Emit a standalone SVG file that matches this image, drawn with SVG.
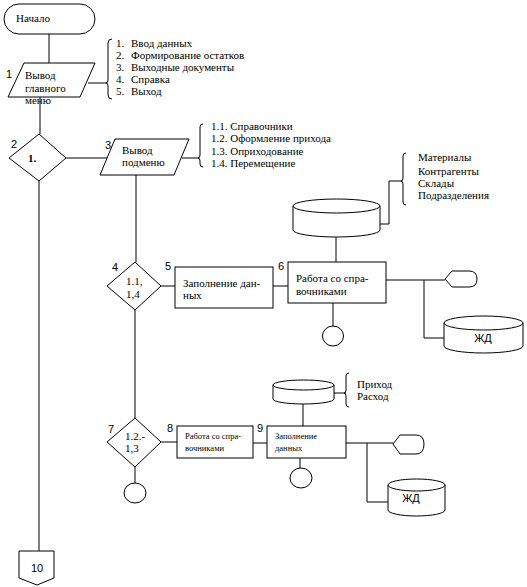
<svg xmlns="http://www.w3.org/2000/svg" width="527" height="587" viewBox="0 0 527 587">
<style>
.s{fill:#fff;stroke:#000;stroke-width:1}
.l{fill:none;stroke:#000;stroke-width:1}
.t{font-family:'Liberation Serif','DejaVu Serif',serif;font-size:11px;fill:#000}
.ts{font-family:'Liberation Serif','DejaVu Serif',serif;font-size:8.5px;fill:#000}
.n{font-family:'Liberation Sans','DejaVu Sans',sans-serif;font-size:11px;fill:#000}
</style>
<rect width="527" height="587" fill="#fff"/>
<g id="connectors" class="l">
<path d="M49 34V63"/>
<path d="M88 83H107"/>
<path d="M40 97V134"/>
<path d="M66 158H108"/>
<path d="M39 181V551"/>
<path d="M182 158H199"/>
<path d="M136 175V262"/>
<path d="M135 310V418"/>
<path d="M135 467V483"/>
<path d="M161 286H175"/>
<path d="M273 286H288"/>
<path d="M336 236V262"/>
<path d="M333 303V326"/>
<path d="M386 280H445"/>
<path d="M424 280V338H444"/>
<path d="M380 224H389V181H402"/>
<path d="M161 442H177"/>
<path d="M253 443H267"/>
<path d="M303 404V426"/>
<path d="M300 458V468"/>
<path d="M334 393H346"/>
<path d="M346 443H393"/>
<path d="M367 443V502H388"/>
</g>
<g id="start">
<rect class="s" x="4" y="4" width="91" height="30" rx="15"/>
<text class="t" x="16" y="22">Начало</text>
</g>
<g id="n1">
<path class="s" d="M24 63H95L80 97H8Z"/>
<text class="n" x="6" y="78">1</text>
<text class="t" x="25" y="79">Вывод</text>
<text class="t" x="25" y="92">главного</text>
<text class="t" x="25" y="104">меню</text>
</g>
<g id="brace1">
<path class="l" d="M112 39Q108 39 108 43V80Q108 83 106 83Q108 83 108 86V95Q108 99 112 99"/>
<text class="t" x="116" y="47">1.</text><text class="t" x="131" y="47">Ввод данных</text>
<text class="t" x="116" y="59">2.</text><text class="t" x="131" y="59">Формирование остатков</text>
<text class="t" x="116" y="71">3.</text><text class="t" x="131" y="71">Выходные документы</text>
<text class="t" x="116" y="83">4.</text><text class="t" x="131" y="83">Справка</text>
<text class="t" x="116" y="95">5.</text><text class="t" x="131" y="95">Выход</text>
</g>
<g id="n2">
<path class="s" d="M39 134L66 158L39 181L9 158Z"/>
<text class="n" x="11" y="148">2</text>
<text class="t" x="28" y="162" font-weight="bold">1.</text>
</g>
<g id="n3">
<path class="s" d="M115 139H189L174 175H100Z"/>
<text class="n" x="105" y="149">3</text>
<text class="t" x="122" y="154">Вывод</text>
<text class="t" x="122" y="166">подменю</text>
</g>
<g id="brace2">
<path class="l" d="M203 124Q200 124 200 127V155Q200 158 198 158Q200 158 200 161V164Q200 167 203 167"/>
<text class="t" x="211" y="130">1.1. Справочники</text>
<text class="t" x="211" y="142">1.2. Оформление прихода</text>
<text class="t" x="211" y="155">1.3. Оприходование</text>
<text class="t" x="211" y="167">1.4. Перемещение</text>
</g>
<g id="db1">
<path class="s" d="M293 206V230A43.5 7 0 0 0 380 230V206"/>
<ellipse class="s" cx="336.5" cy="206" rx="43.5" ry="7"/>
</g>
<g id="brace3">
<path class="l" d="M406 153Q403 153 403 156V178Q403 181 401 181Q403 181 403 184V202Q403 205 406 205"/>
<text class="t" x="418" y="161">Материалы</text>
<text class="t" x="418" y="175">Контрагенты</text>
<text class="t" x="418" y="187">Склады</text>
<text class="t" x="418" y="199">Подразделения</text>
</g>
<g id="n4">
<path class="s" d="M135 262L161 286L135 310L107 286Z"/>
<text class="n" x="112" y="271">4</text>
<text class="t" x="126" y="285">1.1,</text>
<text class="t" x="126" y="298">1,4</text>
</g>
<g id="n5">
<rect class="s" x="175" y="267" width="98" height="41"/>
<text class="n" x="165" y="270">5</text>
<text class="t" x="183" y="287">Заполнение дан-</text>
<text class="t" x="183" y="299">ных</text>
</g>
<g id="n6">
<rect class="s" x="288" y="262" width="98" height="41"/>
<text class="n" x="278" y="270">6</text>
<text class="t" x="296" y="282">Работа со спра-</text>
<text class="t" x="296" y="295">вочниками</text>
</g>
<g id="c6">
<ellipse class="s" cx="333" cy="336" rx="10.5" ry="10"/>
</g>
<g id="disp6">
<path class="s" d="M445 279L452 271H469Q477 271 477 279Q477 287 469 287H452Z"/>
</g>
<g id="zhd1">
<path class="s" d="M444 323V346A39.5 7 0 0 0 523 346V323"/>
<ellipse class="s" cx="483.5" cy="323" rx="39.5" ry="7"/>
<text class="n" x="483" y="342" text-anchor="middle">ЖД</text>
</g>
<g id="n7">
<path class="s" d="M135 418L161 442L135 467L107 442Z"/>
<text class="n" x="108" y="433">7</text>
<text class="t" x="125" y="440">1.2.-</text>
<text class="t" x="125" y="452">1,3</text>
</g>
<g id="c7">
<ellipse class="s" cx="135" cy="493" rx="11" ry="10"/>
</g>
<g id="n8">
<rect class="s" x="177" y="426" width="76" height="32"/>
<text class="n" x="167" y="432">8</text>
<text class="ts" x="185" y="439">Работа со спра-</text>
<text class="ts" x="185" y="451">вочниками</text>
</g>
<g id="n9">
<rect class="s" x="267" y="426" width="79" height="32"/>
<text class="n" x="257" y="432">9</text>
<text class="ts" x="275" y="439">Заполнение</text>
<text class="ts" x="275" y="451">данных</text>
</g>
<g id="db2">
<path class="s" d="M273 385V399A30.5 5 0 0 0 334 399V385"/>
<ellipse class="s" cx="303.5" cy="385" rx="30.5" ry="5"/>
</g>
<g id="brace4">
<path class="l" d="M349 373Q346 373 346 376V390Q346 393 344 393Q346 393 346 396V404Q346 407 349 407"/>
<text class="t" x="357" y="388">Приход</text>
<text class="t" x="357" y="400">Расход</text>
</g>
<g id="c9">
<ellipse class="s" cx="301" cy="478" rx="11" ry="10"/>
</g>
<g id="disp9">
<path class="s" d="M393 444L400 435H416Q424 435 424 444Q424 454 416 454H400Z"/>
</g>
<g id="zhd2">
<path class="s" d="M388 485V510A28.5 6 0 0 0 445 510V485"/>
<ellipse class="s" cx="416.5" cy="485" rx="28.5" ry="6"/>
<text class="n" x="411" y="502" text-anchor="middle">ЖД</text>
</g>
<g id="n10">
<path class="s" d="M19 551H54V578L37 585L19 578Z"/>
<text class="n" x="37" y="572" text-anchor="middle">10</text>
</g>
</svg>
